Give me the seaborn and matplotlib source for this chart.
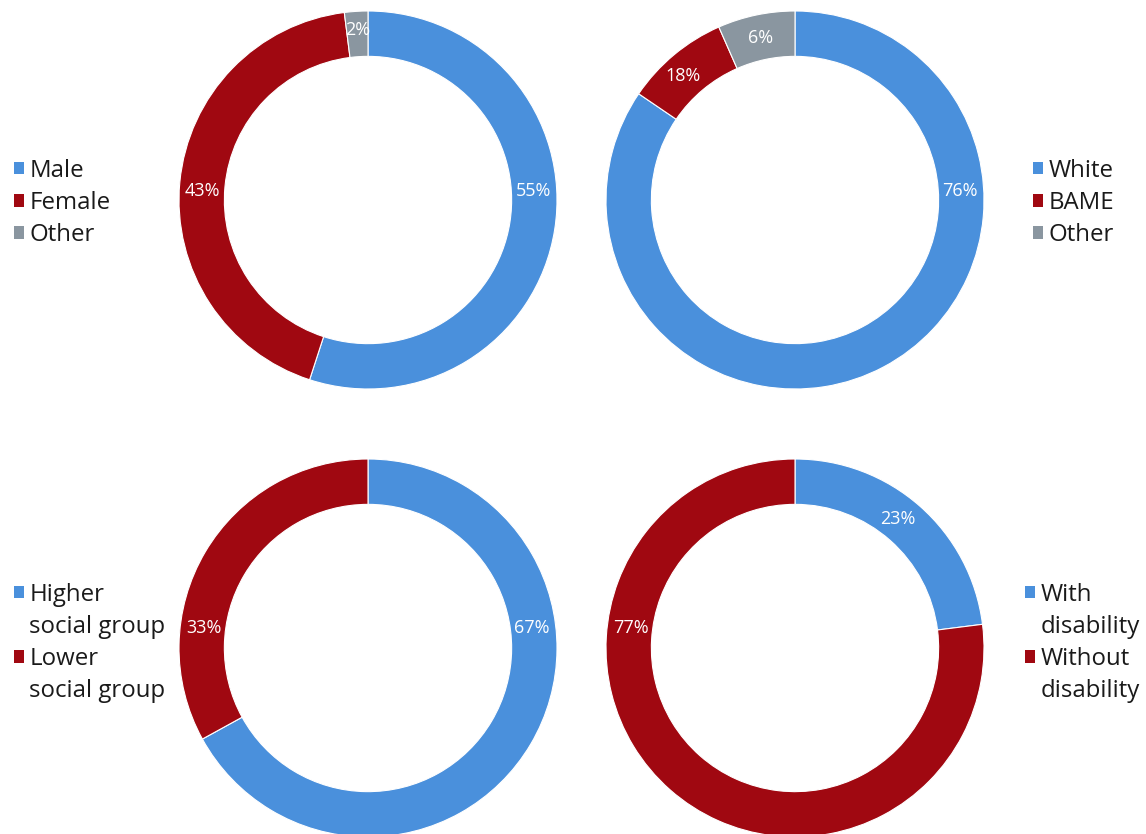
import numpy as np
import matplotlib
matplotlib.use("Agg")
import matplotlib.pyplot as plt
from matplotlib.patches import Patch
import seaborn as sns

# ---------------- data ----------------
gender_cats = ["Male", "Female", "Other"]
gender_share = [55, 43, 2]
gender_labels = ["55%", "43%", "2%"]

ethnic_cats = ["White", "BAME", "Other"]
ethnic_share = [84.5, 8.9, 6.6]          # slice sizes as drawn
ethnic_labels = ["76%", "18%", "6%"]     # labels as printed

social_cats = ["Higher\nsocial group", "Lower\nsocial group"]
social_share = [67, 33]
social_labels = ["67%", "33%"]

disab_cats = ["With\ndisability", "Without\ndisability"]
disab_share = [23, 77]
disab_labels = ["23%", "77%"]

BLUE = "#4A90DC"
RED = "#A00811"
GRAY = "#8A96A0"

sns.set_theme(style="white")
plt.rcParams["font.family"] = ["Open Sans", "DejaVu Sans"]

W, H = 1146, 834
fig = plt.figure(figsize=(W / 100, H / 100), dpi=100)
fig.patch.set_facecolor("white")

R = 189  # outer radius, px

charts = [
    ((368, 200), gender_cats, gender_share, gender_labels, [BLUE, RED, GRAY],
     [(87, 0.875), (273, 0.875), (356.5, 0.9)], (14, 203)),
    ((795, 200), ethnic_cats, ethnic_share, ethnic_labels, [BLUE, RED, GRAY],
     [(87, 0.875), (318, 0.885), (348, 0.875)], (1033, 203)),
    ((368, 648), social_cats, social_share, social_labels, [BLUE, RED],
     [(83, 0.875), (277, 0.875)], (14, 643)),
    ((795, 648), disab_cats, disab_share, disab_labels, [BLUE, RED],
     [(38.6, 0.87), (277, 0.875)], (1025, 643)),
]

for (cx, cy), cats, share, labels, colors, lab_pos, (lx, ly) in charts:
    ax = fig.add_axes([(cx - R) / W, (H - cy - R) / H, 2 * R / W, 2 * R / H])
    wedges, _ = ax.pie(share, colors=colors, startangle=90, counterclock=False,
                       radius=1.0,
                       wedgeprops=dict(width=0.24, edgecolor="white", linewidth=0.8))
    ax.set_xlim(-1, 1)
    ax.set_ylim(-1, 1)
    ax.set_aspect("auto")
    ax.axis("off")
    for txt, (ang, r) in zip(labels, lab_pos):
        a = np.deg2rad(ang)
        ax.text(r * np.sin(a), r * np.cos(a), txt, ha="center", va="center",
                color="white", fontsize=13)

    handles, leg_labels = [], []
    for c, col in zip(cats, colors):
        lines = c.split("\n")
        for i, ln in enumerate(lines):
            if i == 0:
                handles.append(Patch(facecolor=col, edgecolor="none"))
            else:
                handles.append(Patch(facecolor="none", edgecolor="none"))
            leg_labels.append(ln)
    fig.legend(handles, leg_labels, loc="center left",
               bbox_to_anchor=(lx / W, 1 - ly / H), frameon=False,
               fontsize=17.3, handlelength=0.42, handleheight=0.42,
               handletextpad=0.22, labelspacing=0.34, borderpad=0,
               borderaxespad=0, labelcolor="#1a1a1a")

fig.savefig("out.png", dpi=100, facecolor="white")
